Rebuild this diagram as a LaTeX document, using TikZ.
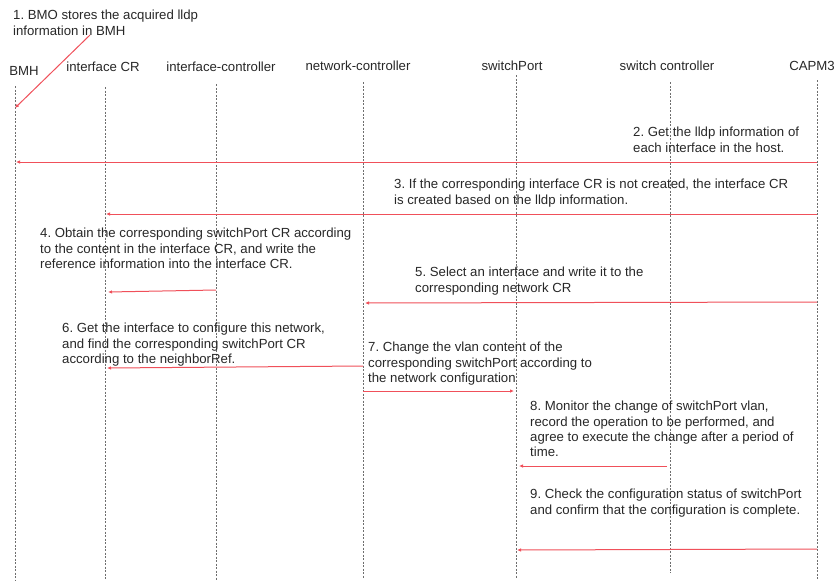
\documentclass[tikz,border=0pt]{standalone}
\usepackage{fontspec}
\setmainfont{Liberation Sans}
\usetikzlibrary{arrows.meta}
\definecolor{msgred}{RGB}{240,80,90}
\definecolor{lifegray}{RGB}{110,110,110}
\definecolor{txtgray}{RGB}{40,40,40}
\frenchspacing
\begin{document}
\begin{tikzpicture}[x=1pt,y=-1pt,
  lifeline/.style={draw=lifegray,line width=0.6pt,dash pattern=on 2pt off 1.5pt},
  msg/.style={draw=msgred,line width=1pt,-{Latex[length=4pt,width=3.5pt]}},
  head/.style={inner sep=0pt,text=txtgray,font=\fontsize{13.2}{15.3}\selectfont},
  note/.style={inner sep=0pt,anchor=north west,align=left,text=txtgray,font=\fontsize{13.2}{15.3}\selectfont}]
\useasboundingbox[fill=white] (0,0) rectangle (840,587);

% headers
\node[head] (hbmh) at (24,71) {BMH};
\node[head] (hifcr) at (103,67) {interface CR};
\node[head] (hifctl) at (221,67) {interface-controller};
\node[head] (hnet) at (358,66) {network-controller};
\node[head] (hsw) at (512,66) {switchPort};
\node[head] (hswc) at (667,66) {switch controller};
\node[head] (hcapm) at (812,66) {CAPM3};

% lifelines
\coordinate (bmhT) at (15,86);   \coordinate (bmhB) at (15,580);
\coordinate (ifcrT) at (105,87); \coordinate (ifcrB) at (105,580);
\coordinate (ifctlT) at (216,84);\coordinate (ifctlB) at (216,580);
\coordinate (netT) at (363,82);  \coordinate (netB) at (363,578);
\coordinate (swT) at (516,75);   \coordinate (swB) at (516,578);
\coordinate (swcT) at (670,82);  \coordinate (swcB) at (670,573);
\coordinate (capT) at (817,80);  \coordinate (capB) at (817,580);
\foreach \l in {bmh,ifcr,ifctl,net,sw,swc,cap} \draw[lifeline] (\l T) -- (\l B);

% notes
\node[note] (n1) at (13,10) {1. BMO stores the acquired lldp\\information in BMH};
\node[note] (n2) at (633,127) {2. Get the lldp information of\\each interface in the host.};
\node[note] (n3) at (394,179) {3. If the corresponding interface CR is not created, the interface CR\\is created based on the lldp information.};
\node[note] (n4) at (40,228) {4. Obtain the corresponding switchPort CR according\\to the content in the interface CR, and write the\\reference information into the interface CR.};
\node[note] (n5) at (415,267) {5. Select an interface and write it to the\\corresponding network CR};
\node[note] (n6) at (62,323) {6. Get the interface to configure this network,\\and find the corresponding switchPort CR\\according to the neighborRef.};
\node[note] (n7) at (368,342) {7. Change the vlan content of the\\corresponding switchPort according to\\the network configuration};
\node[note] (n8) at (530,401) {8. Monitor the change of switchPort vlan,\\record the operation to be performed, and\\agree to execute the change after a period of\\time.};
\node[note] (n9) at (530,489) {9. Check the configuration status of switchPort\\and confirm that the configuration is complete.};

% message endpoints
\coordinate (a1s) at (90,35);   \coordinate (a1e) at (15,108);
\coordinate (a2s) at (817,162); \coordinate (a2e) at (16,162);
\coordinate (a3s) at (817,214); \coordinate (a3e) at (106,214);
\coordinate (a4s) at (216,290); \coordinate (a4e) at (108,292);
\coordinate (a5s) at (817,302); \coordinate (a5e) at (365,303);
\coordinate (a6s) at (363,366); \coordinate (a6e) at (107,368);
\coordinate (a7s) at (363,391); \coordinate (a7e) at (514,391);
\coordinate (a8s) at (667,466); \coordinate (a8e) at (519,466);
\coordinate (a9s) at (817,549); \coordinate (a9e) at (517,550);
\foreach \i in {1,...,9} \draw[msg] (a\i s) -- (a\i e);
\end{tikzpicture}
\end{document}
